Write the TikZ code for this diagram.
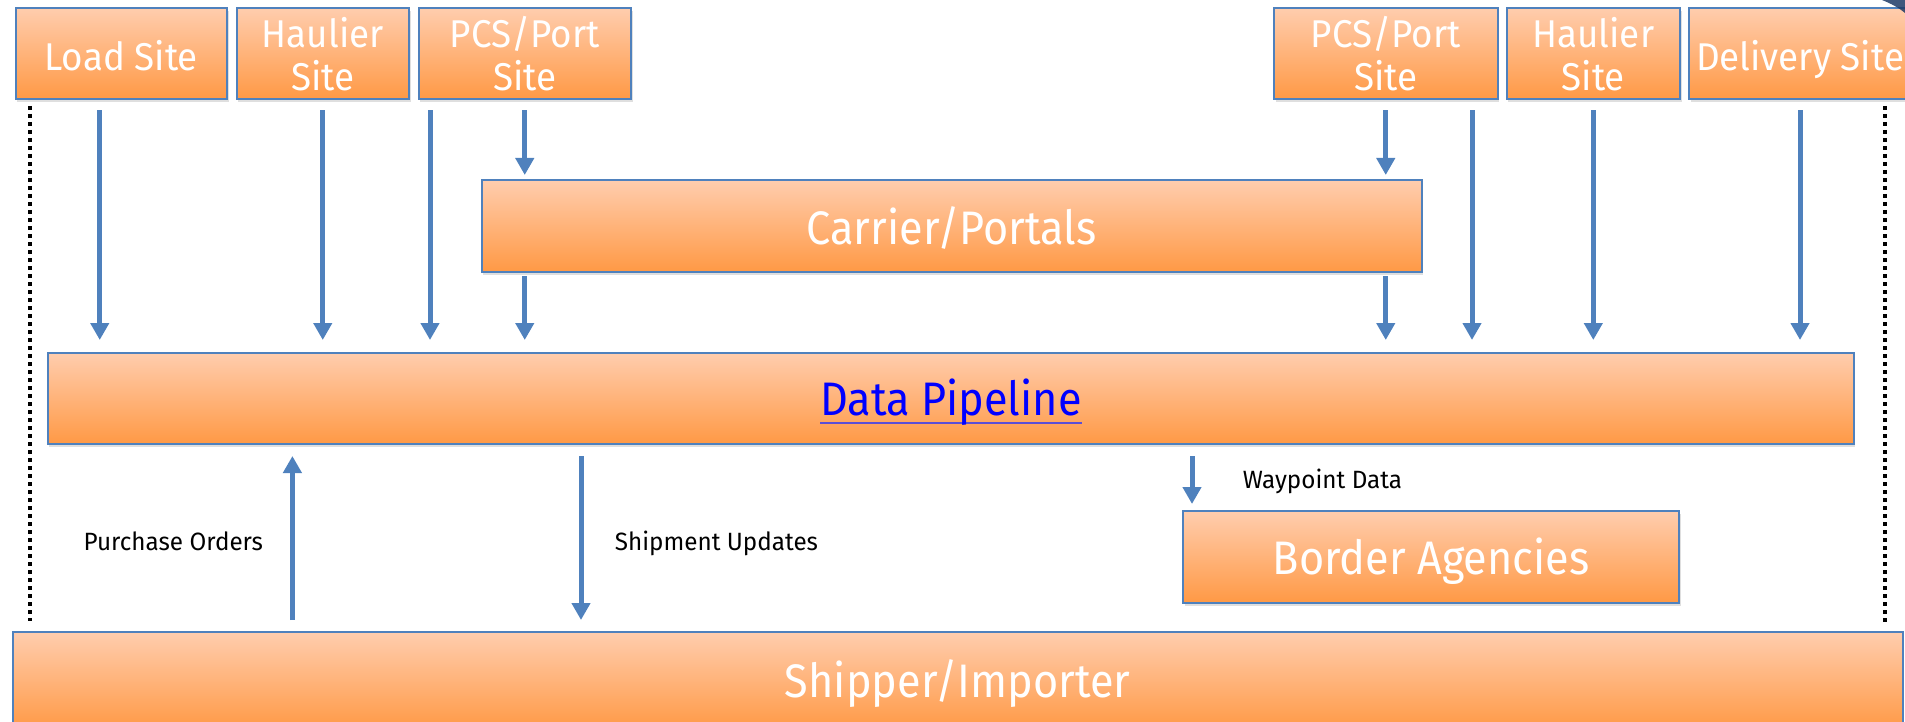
\documentclass[tikz,border=0pt]{standalone}
\usepackage{fontspec}
\newfontfamily\sfont{Fira Sans}[FakeStretch=0.95]
\newfontfamily\bfont{Fira Sans}[FakeStretch=0.92]
\newfontfamily\lfont{Fira Sans}[FakeStretch=0.97]
\usetikzlibrary{arrows.meta,shadows}
\definecolor{obl}{HTML}{4F81BD}
\definecolor{otop}{HTML}{FFCDAE}
\definecolor{obot}{HTML}{FF9945}
\definecolor{ulc}{HTML}{5B4FD6}
\definecolor{lnk}{HTML}{0000FF}
\definecolor{smudge}{HTML}{1F3A66}
\newcommand\linkul[1]{\setbox0\hbox{#1}\rlap{\textcolor{ulc}{\vrule width\wd0 height -6pt depth 8pt}}\box0}
\tikzset{
 box/.style={draw=obl, line width=2pt, top color=otop, bottom color=obot, anchor=north west, inner sep=0pt, text=white, drop shadow={opacity=0.25,shadow xshift=1.5pt,shadow yshift=-3pt}},
 smalltxt/.style={font=\sfont\fontsize{38.7}{43.3}\selectfont},
 bigtxt/.style={font=\bfont\fontsize{47}{52}\selectfont},
 lbl/.style={font=\lfont\fontsize{25}{28}\selectfont, text=black, inner sep=0pt, anchor=base west},
 arr/.style={draw=obl, line width=5pt, -{Triangle[width=18pt,length=17pt]}},
 dots/.style={draw=black, line width=4pt, dash pattern=on 4pt off 4pt},
}
\begin{document}
\begin{tikzpicture}[x=1pt,y=-1pt]
\useasboundingbox (0,0) rectangle (1905,722);
\clip (0,0) rectangle (1905,722);
% site boxes
\node[box, smalltxt, text height=35pt, text depth=0pt, minimum width=211.5pt, minimum height=91.5pt] (load) at (14.5,6.7) {Load Site};
\node[box, smalltxt, align=center, minimum width=172.5pt, minimum height=91.5pt] (haul1) at (235.5,6.7) {\rule{0pt}{31.7pt}Haulier\\Site};
\node[box, smalltxt, align=center, minimum width=212.5pt, minimum height=91.5pt] (pcs1) at (417.5,6.7) {\rule{0pt}{31.7pt}PCS/Port\\Site};
\node[box, smalltxt, align=center, minimum width=223.5pt, minimum height=91.5pt] (pcs2) at (1273,6.7) {\rule{0pt}{31.7pt}PCS/Port\\Site};
\node[box, smalltxt, align=center, minimum width=173.4pt, minimum height=91.5pt] (haul2) at (1505.6,6.7) {\rule{0pt}{31.7pt}Haulier\\Site};
\node[box, smalltxt, text height=35pt, text depth=0pt, minimum width=222pt, minimum height=91.5pt] (deliv) at (1688,6.7) {Delivery Site};
% main boxes
\node[box, bigtxt, text height=36.6pt, text depth=0pt, minimum width=940pt, minimum height=91.7pt] (carrier) at (480.6,179) {Carrier/Portals};
\node[box, bigtxt, text height=35.2pt, text depth=0pt, minimum width=1806pt, minimum height=91.3pt] (pipe) at (46.9,351.7) {\textcolor{lnk}{\linkul{Data Pipeline}}};
\node[box, bigtxt, text height=36pt, text depth=0pt, minimum width=496pt, minimum height=91.7pt] (border) at (1182,510) {Border Agencies};
\node[box, bigtxt, text height=32pt, text depth=0pt, minimum width=1890pt, minimum height=98pt] (ship) at (11.6,631) {Shipper/Importer};
% dotted boundaries
\draw[dots] (29.7,106) -- (29.7,621);
\draw[dots] (1884.7,106) -- (1884.7,622);
% arrows from sites
\draw[arr] ([xshift=-21.5pt,yshift=-10pt]load.south) -- ([xshift=-21.5pt,yshift=11.7pt]load.south |- pipe.north);
\draw[arr] ([yshift=-10pt]haul1.south) -- ([yshift=11.7pt]haul1.south |- pipe.north);
\draw[arr] ([xshift=12.5pt,yshift=-10pt]pcs1.south west) -- ([xshift=12.5pt,yshift=11.7pt]pcs1.south west |- pipe.north);
\draw[arr] ([yshift=-10pt]pcs1.south) -- ([yshift=4pt]pcs1.south |- carrier.north);
\draw[arr] ([yshift=-3.3pt]pcs1.south |- carrier.south) -- ([yshift=11.7pt]pcs1.south |- pipe.north);
\draw[arr] ([yshift=-10pt]pcs2.south) -- ([yshift=4pt]pcs2.south |- carrier.north);
\draw[arr] ([yshift=-3.3pt]pcs2.south |- carrier.south) -- ([yshift=11.7pt]pcs2.south |- pipe.north);
\draw[arr] ([xshift=-26.5pt,yshift=-10pt]pcs2.south east) -- ([xshift=-26.5pt,yshift=11.7pt]pcs2.south east |- pipe.north);
\draw[arr] ([yshift=-10pt]haul2.south) -- ([yshift=11.7pt]haul2.south |- pipe.north);
\draw[arr] ([yshift=-10pt]deliv.south) -- ([yshift=11.7pt]deliv.south |- pipe.north);
% lower arrows
\coordinate (po) at (292.4,0);
\coordinate (su) at (581,0);
\draw[arr] ([yshift=11pt]po |- ship.north) -- ([yshift=-11pt]po |- pipe.south);
\draw[arr] ([yshift=-11pt]su |- pipe.south) -- ([yshift=11pt]su |- ship.north);
\draw[arr] ([xshift=10pt,yshift=-11pt]border.north west |- pipe.south) -- ([xshift=10pt,yshift=6pt]border.north west);
% labels
\node[lbl] (polbl) at (83.5,550) {Purchase Orders};
\node[lbl] (sulbl) at (614.7,550) {Shipment Updates};
\node[lbl] (wplbl) at (1242.7,488.3) {Waypoint Data};
% corner fragment
\fill[smudge, opacity=0.85] (1882,0) .. controls (1892,4) and (1899,8) .. (1905,13) -- (1905,0) -- cycle;
\end{tikzpicture}
\end{document}
